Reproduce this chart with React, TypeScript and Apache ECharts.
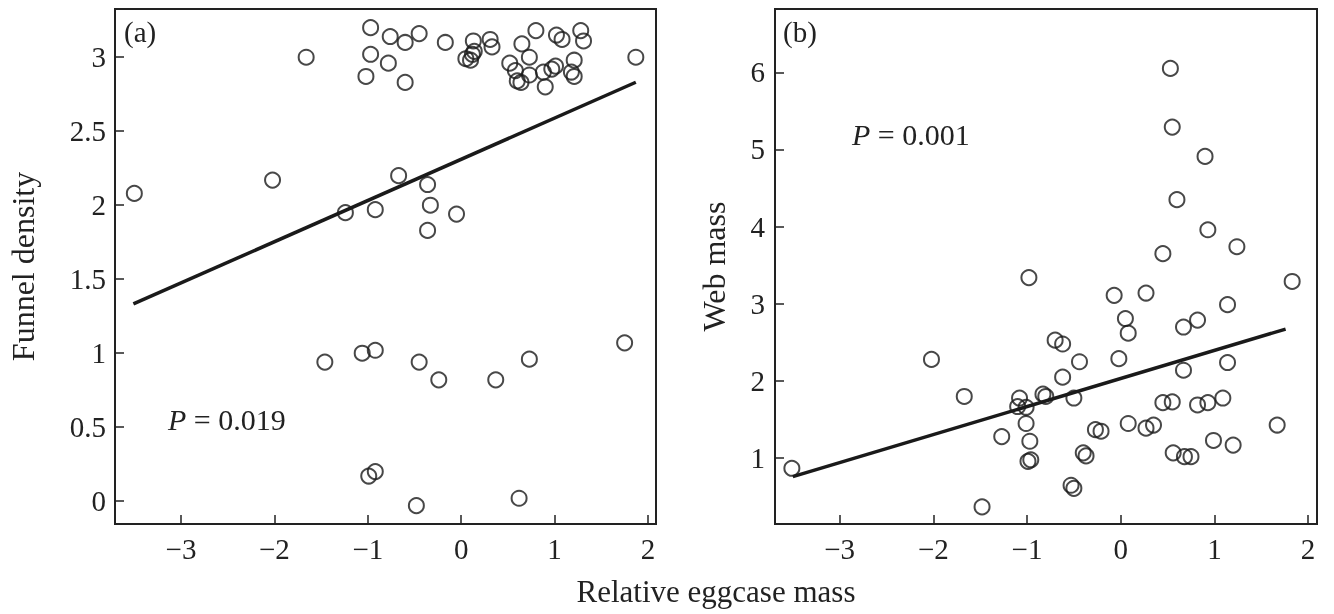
import React, { useEffect, useRef } from "react";
import * as echarts from "echarts";

// Panel (a): Funnel density vs relative eggcase mass
const funnelX = [
  -0.97, -0.76, -0.6, -0.45, -0.17, -1.66, -0.97, -0.78, -1.02, -0.6, 0.13, 0.14, 0.12, 0.05, 0.1, 0.31, 0.33,
  0.65, 0.8, 0.73, 0.52, 0.58, 0.6, 0.64, 0.73, 0.88, 0.9, 0.97, 1.01, 1.02, 1.08, 1.21, 1.18, 1.21, 1.28, 1.31,
  1.87, -3.5, -2.02, -1.24, -0.92, -0.67, -0.36, -0.33, -0.05, -0.36, -1.46, -1.06, -0.92, -0.45, -0.24, 0.37,
  0.73, 1.75, -0.99, -0.92, -0.48, 0.62,
];
const funnelY = [
  3.2, 3.14, 3.1, 3.16, 3.1, 3.0, 3.02, 2.96, 2.87, 2.83, 3.11, 3.04, 3.02, 2.99, 2.98, 3.12, 3.07, 3.09, 3.18,
  3.0, 2.96, 2.91, 2.84, 2.83, 2.88, 2.9, 2.8, 2.92, 2.94, 3.15, 3.12, 2.98, 2.9, 2.87, 3.18, 3.11, 3.0, 2.08,
  2.17, 1.95, 1.97, 2.2, 2.14, 2.0, 1.94, 1.83, 0.94, 1.0, 1.02, 0.94, 0.82, 0.82, 0.96, 1.07, 0.17, 0.2, -0.03,
  0.02,
];
const funnelFitX = [-3.51, 1.87];
const funnelFitY = [1.333, 2.831];

// Panel (b): Web mass vs relative eggcase mass
const webX = [
  0.53, 0.55, 0.9, 0.6, 0.93, 1.24, 0.45, -0.98, 1.83, -0.07, 0.27, 1.14, 0.05, 0.08, 0.67, 0.82, -0.7, -0.62,
  -2.02, -0.44, -0.02, 1.14, 0.67, -0.62, -1.67, -1.08, -1.1, -1.01, -0.83, -0.8, -0.5, -1.01, -1.27, -0.97,
  -0.99, -0.96, -0.27, -0.21, -0.4, -0.37, -0.53, -0.5, -1.48, -3.51, 0.08, 0.27, 0.35, 0.45, 0.55, 0.82, 0.93,
  1.09, 1.67, 0.99, 1.2, 0.56, 0.68, 0.75,
];
const webY = [
  6.05, 5.29, 4.91, 4.35, 3.96, 3.74, 3.65, 3.34, 3.29, 3.11, 3.14, 2.99, 2.81, 2.62, 2.7, 2.79, 2.53, 2.48, 2.28,
  2.25, 2.29, 2.24, 2.14, 2.05, 1.8, 1.78, 1.67, 1.66, 1.83, 1.8, 1.78, 1.45, 1.28, 1.22, 0.96, 0.98, 1.37, 1.35,
  1.07, 1.03, 0.65, 0.61, 0.37, 0.87, 1.45, 1.39, 1.43, 1.72, 1.73, 1.69, 1.72, 1.78, 1.43, 1.23, 1.17, 1.07,
  1.02, 1.02,
];
const webFitX = [-3.5, 1.76];
const webFitY = [0.761, 2.673];

const xTicks = [-3, -2, -1, 0, 1, 2];
const funnelTicks = [0, 0.5, 1, 1.5, 2, 2.5, 3];
const webTicks = [1, 2, 3, 4, 5, 6];

const panelLabels = ["(a)", "(b)"];
const pLabels = ["P = 0.019", "P = 0.001"];
const yTitles = ["Funnel density", "Web mass"];
const xTitle = "Relative eggcase mass";

const FONT = "'Liberation Serif', 'Times New Roman', serif";
const INK = "#222";

const fmt = (v: number) => String(v).replace("-", "\u2212");

function axisBase(ticks: number[], margin: number) {
  return {
    axisLine: { show: true, onZero: false, lineStyle: { color: INK, width: 2 } },
    axisTick: { show: true, inside: true, length: 9, customValues: ticks, lineStyle: { color: INK, width: 1.5 } },
    axisLabel: {
      customValues: ticks,
      fontFamily: FONT,
      fontSize: 29,
      color: INK,
      margin,
      formatter: fmt,
    },
    splitLine: { show: false },
  };
}

export default function App() {
  const ref = useRef<HTMLDivElement>(null);

  useEffect(() => {
    if (!ref.current) return;
    const chart = echarts.init(ref.current, null, { renderer: "svg" });
    const zip = (xs: number[], ys: number[]) => xs.map((x, i) => [x, ys[i]]);
    const marker = {
      type: "scatter",
      symbol: "circle",
      symbolSize: 15,
      itemStyle: { color: "rgba(0,0,0,0)", borderColor: "#1a1a1a", borderWidth: 2 },
      emphasis: { disabled: true },
    };
    const fit = {
      type: "line",
      showSymbol: false,
      symbol: "none",
      lineStyle: { color: "#1a1a1a", width: 3.5 },
      emphasis: { disabled: true },
    };
    chart.setOption({
      animation: false,
      grid: [
        { left: 115, top: 9, width: 541, height: 515, show: true, borderColor: INK, borderWidth: 2, backgroundColor: "transparent" },
        { left: 775, top: 9, width: 542, height: 515, show: true, borderColor: INK, borderWidth: 2, backgroundColor: "transparent" },
      ],
      xAxis: [
        { type: "value", gridIndex: 0, min: -3.707, max: 2.086, ...axisBase(xTicks, 10) },
        { type: "value", gridIndex: 1, min: -3.69, max: 2.095, ...axisBase(xTicks, 10) },
      ],
      yAxis: [
        {
          type: "value",
          gridIndex: 0,
          min: -0.154,
          max: 3.326,
          ...axisBase(funnelTicks, 9),
          name: yTitles[0],
          nameLocation: "middle",
          nameGap: 76,
          nameTextStyle: { fontFamily: FONT, fontSize: 32, color: INK },
        },
        {
          type: "value",
          gridIndex: 1,
          min: 0.148,
          max: 6.82,
          ...axisBase(webTicks, 10),
          name: yTitles[1],
          nameLocation: "middle",
          nameGap: 45,
          nameTextStyle: { fontFamily: FONT, fontSize: 32, color: INK },
        },
      ],
      series: [
        { ...marker, xAxisIndex: 0, yAxisIndex: 0, data: zip(funnelX, funnelY) },
        { ...fit, xAxisIndex: 0, yAxisIndex: 0, data: zip(funnelFitX, funnelFitY) },
        { ...marker, xAxisIndex: 1, yAxisIndex: 1, data: zip(webX, webY) },
        { ...fit, xAxisIndex: 1, yAxisIndex: 1, data: zip(webFitX, webFitY) },
      ],
      graphic: [
        { type: "text", left: 124, top: 17, style: { text: panelLabels[0], font: `29px ${FONT}`, fill: INK } },
        { type: "text", left: 783, top: 17, style: { text: panelLabels[1], font: `29px ${FONT}`, fill: INK } },
        {
          type: "text",
          left: 168,
          top: 404,
          style: {
            rich: { i: { fontStyle: "italic", fontFamily: FONT, fontSize: 30, fill: INK }, n: { fontFamily: FONT, fontSize: 30, fill: INK } },
            text: `{i|${pLabels[0].slice(0, 1)}}{n|${pLabels[0].slice(1)}}`,
          },
        },
        {
          type: "text",
          left: 852,
          top: 119,
          style: {
            rich: { i: { fontStyle: "italic", fontFamily: FONT, fontSize: 30, fill: INK }, n: { fontFamily: FONT, fontSize: 30, fill: INK } },
            text: `{i|${pLabels[1].slice(0, 1)}}{n|${pLabels[1].slice(1)}}`,
          },
        },
        {
          type: "text",
          x: 716,
          y: 591,
          style: { text: xTitle, font: `31px ${FONT}`, fill: INK, align: "center", verticalAlign: "middle" },
        },
      ],
    });
    return () => chart.dispose();
  }, []);

  return <div ref={ref} style={{ position: "fixed", left: 0, top: 0, width: 1334, height: 614 }} />;
}
